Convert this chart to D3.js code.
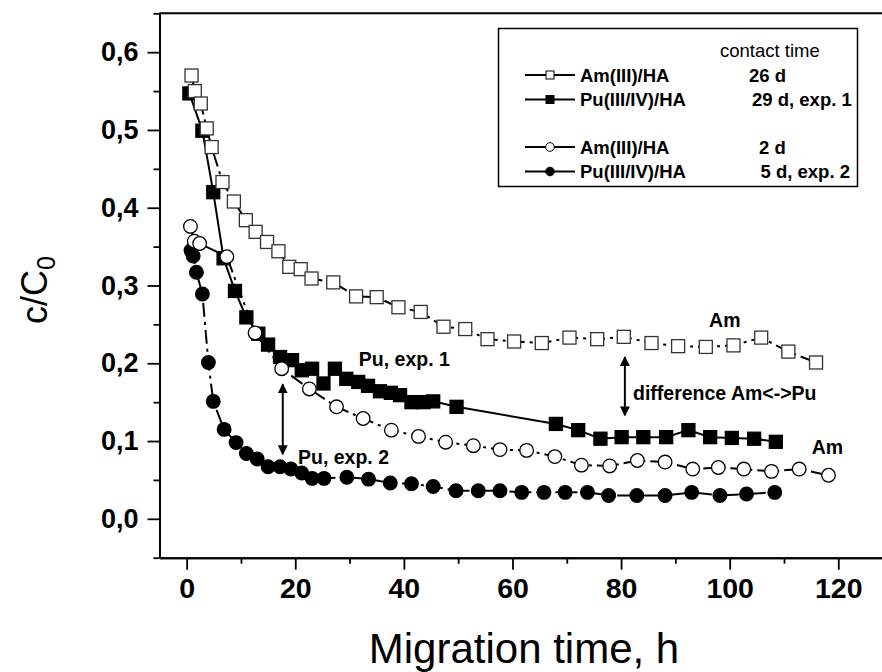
<!DOCTYPE html>
<html>
<head>
<meta charset="utf-8">
<script src="https://cdn.jsdelivr.net/npm/d3@7"></script>
<style>
  body { margin: 0; background: #fff; }
  svg { display: block; font-family: "Liberation Sans", Arial, sans-serif; }
  .tick text { font-weight: bold; font-size: 27px; fill: #000; }
  .x-axis .tick text { font-size: 28.5px; }
  .tick line, .domain { stroke: #000; }
</style>
</head>
<body>
<svg width="882" height="672"></svg>
<script>
// Am(III)/HA, contact time 26 d
const amLongTime = [0.9, 1.5, 2.6, 3.7, 4.6, 6.6, 8.7, 10.9, 12.7, 14.8, 16.9, 18.9, 21.0, 23.0, 27.0, 31.2, 35.0, 39.0, 43.1, 47.3, 51.3, 55.4, 60.3, 65.4, 70.5, 75.6, 80.5, 85.6, 90.5, 95.6, 100.7, 105.8, 110.8, 115.9];
const amLongC = [0.570, 0.550, 0.534, 0.502, 0.478, 0.433, 0.408, 0.384, 0.369, 0.356, 0.344, 0.324, 0.321, 0.309, 0.304, 0.286, 0.285, 0.272, 0.266, 0.247, 0.244, 0.231, 0.228, 0.226, 0.233, 0.231, 0.234, 0.226, 0.222, 0.221, 0.223, 0.233, 0.215, 0.201];

// Pu(III/IV)/HA, 29 d, exp. 1
const puExp1Time = [0.5, 2.9, 4.9, 6.8, 8.9, 11.0, 13.2, 15.0, 17.2, 19.4, 21.2, 23.1, 25.2, 27.3, 29.4, 31.6, 33.4, 35.6, 37.6, 39.3, 41.4, 43.6, 45.4, 49.7, 68.0, 72.1, 76.2, 80.1, 84.1, 88.3, 92.4, 96.4, 100.4, 104.5, 108.5];
const puExp1C = [0.547, 0.499, 0.420, 0.335, 0.293, 0.259, 0.238, 0.224, 0.208, 0.204, 0.191, 0.193, 0.174, 0.193, 0.180, 0.176, 0.171, 0.164, 0.162, 0.159, 0.150, 0.150, 0.151, 0.144, 0.122, 0.114, 0.103, 0.105, 0.105, 0.105, 0.114, 0.105, 0.104, 0.103, 0.099];

// Am(III)/HA, contact time 2 d
const amShortTime = [0.7, 1.4, 2.4, 7.4, 12.6, 17.5, 22.6, 27.6, 32.5, 37.7, 42.7, 47.7, 52.8, 57.7, 62.6, 67.8, 72.7, 77.9, 83.0, 88.1, 93.2, 97.9, 102.6, 107.7, 112.8, 118.2];
const amShortC = [0.376, 0.357, 0.354, 0.337, 0.239, 0.193, 0.167, 0.144, 0.129, 0.114, 0.106, 0.0985, 0.094, 0.089, 0.088, 0.080, 0.069, 0.068, 0.075, 0.073, 0.064, 0.066, 0.064, 0.061, 0.064, 0.056];

// Pu(III/IV)/HA, 5 d, exp. 2
const puExp2Time = [0.8, 1.2, 1.8, 2.9, 4.0, 4.9, 6.9, 9.1, 11.0, 13.0, 15.0, 17.2, 19.2, 21.2, 23.1, 25.3, 29.5, 33.5, 37.5, 41.4, 45.4, 49.6, 53.7, 57.7, 61.7, 65.8, 69.7, 73.8, 77.7, 82.9, 88.1, 93.0, 98.2, 103.1, 108.3];
const puExp2C = [0.345, 0.338, 0.317, 0.289, 0.201, 0.151, 0.115, 0.098, 0.084, 0.077, 0.067, 0.067, 0.064, 0.059, 0.052, 0.052, 0.0535, 0.051, 0.046, 0.045, 0.0415, 0.036, 0.036, 0.036, 0.034, 0.034, 0.034, 0.034, 0.030, 0.030, 0.030, 0.034, 0.030, 0.032, 0.034];

const xMajorTicks = [0, 20, 40, 60, 80, 100, 120];
const xMinorTicks = [10, 30, 50, 70, 90, 110, 130];
const yMajorTicks = [0, 0.1, 0.2, 0.3, 0.4, 0.5, 0.6];
const yMinorTicks = [-0.05, 0.05, 0.15, 0.25, 0.35, 0.45, 0.55, 0.65];

// text notes inside the plot: [label, time, c/c0]
const noteLabels = ["Am", "Am", "difference Am<->Pu", "Pu, exp. 1", "Pu, exp. 2"];
const noteTime = [99.1, 118.0, 82.2, 31.7, 20.5];
const noteC = [0.246, 0.083, 0.153, 0.197, 0.071];
const noteAnchor = ["middle", "middle", "start", "start", "start"];

// double arrows: time, from, to
const arrowTime = [17.7, 80.7];
const arrowFrom = [0.173, 0.208];
const arrowTo = [0.083, 0.133];

const legendNames = ["Am(III)/HA", "Pu(III/IV)/HA", "Am(III)/HA", "Pu(III/IV)/HA"];
const legendTimes = ["26 d", "29 d, exp. 1", "2 d", "5 d, exp. 2"];

const svg = d3.select("svg");

const x = d3.scaleLinear().domain([-5, 130]).range([159.5, 892.6]);
const y = d3.scaleLinear().domain([-0.05, 0.65]).range([557.7, 13.3]);

const comma = d => d3.format(".1f")(d).replace(".", ",");

// axes
svg.append("g")
    .attr("class", "x-axis")
    .attr("transform", `translate(0,${y(-0.05)})`)
    .call(d3.axisBottom(x).tickValues(xMajorTicks).tickSize(12).tickSizeOuter(0).tickPadding(8));
svg.append("g")
    .attr("transform", `translate(0,${y(-0.05)})`)
    .call(d3.axisBottom(x).tickValues(xMinorTicks).tickSize(6).tickSizeOuter(0).tickFormat(""));

svg.append("g")
    .attr("transform", `translate(${x(-5)},0)`)
    .call(d3.axisLeft(y).tickValues(yMajorTicks).tickSize(12).tickSizeOuter(0).tickPadding(9).tickFormat(comma));
svg.append("g")
    .attr("transform", `translate(${x(-5)},0)`)
    .call(d3.axisLeft(y).tickValues(yMinorTicks).tickSize(6).tickSizeOuter(0).tickFormat(""));

svg.selectAll(".domain").attr("stroke-width", 2);
svg.selectAll(".tick line").attr("stroke-width", 1.8);

// top frame line
svg.append("line")
    .attr("x1", x(-5)).attr("x2", x(130))
    .attr("y1", y(0.65)).attr("y2", y(0.65))
    .attr("stroke", "#000").attr("stroke-width", 2);

// axis titles
svg.append("text")
    .attr("x", 524).attr("y", 663)
    .attr("text-anchor", "middle")
    .attr("font-size", 42)
    .text("Migration time, h");

const yTitle = svg.append("text")
    .attr("transform", `translate(47,290) rotate(-90)`)
    .attr("text-anchor", "middle")
    .attr("font-size", 36);
yTitle.append("tspan").text("c/C");
yTitle.append("tspan").attr("font-size", 25).attr("dy", 8).text("0");

// series
const series = [
    { t: puExp2Time, c: puExp2C, shape: "circle", fill: "#000", dash: "14,5,3,5" },
    { t: puExp1Time, c: puExp1C, shape: "square", fill: "#000", dash: null },
    { t: amShortTime, c: amShortC, shape: "circle", fill: "#fff", dash: "14,5,3,5" },
    { t: amLongTime, c: amLongC, shape: "square", fill: "#fff", dash: "14,5,3,5" }
];

const line = d3.line().x(d => x(d[0])).y(d => y(d[1]));

series.forEach(s => {
    const pts = s.t.map((t, i) => [t, s.c[i]]);
    const g = svg.append("g");
    g.append("path")
        .datum(pts)
        .attr("d", line)
        .attr("fill", "none")
        .attr("stroke", "#000")
        .attr("stroke-width", 2)
        .attr("stroke-dasharray", s.dash);

    if (s.shape === "circle") {
        g.selectAll("circle").data(pts).enter().append("circle")
            .attr("cx", d => x(d[0]))
            .attr("cy", d => y(d[1]))
            .attr("r", 6.8)
            .attr("fill", s.fill)
            .attr("stroke", "#000")
            .attr("stroke-width", 1.3);
    } else {
        g.selectAll("rect").data(pts).enter().append("rect")
            .attr("x", d => x(d[0]) - 6.5)
            .attr("y", d => y(d[1]) - 6.5)
            .attr("width", 13)
            .attr("height", 13)
            .attr("fill", s.fill)
            .attr("stroke", s.fill === "#fff" ? "#333" : "#000")
            .attr("stroke-width", 1.3);
    }
});

// notes
svg.append("g").selectAll("text")
    .data(noteLabels)
    .enter().append("text")
    .attr("x", (d, i) => x(noteTime[i]))
    .attr("y", (d, i) => y(noteC[i]))
    .attr("text-anchor", (d, i) => noteAnchor[i])
    .attr("font-size", 19.5)
    .attr("font-weight", "bold")
    .text(d => d);

// double arrows
const defs = svg.append("defs");
defs.append("marker")
    .attr("id", "head")
    .attr("viewBox", "0 0 10 10")
    .attr("refX", 9).attr("refY", 5)
    .attr("markerWidth", 5).attr("markerHeight", 5)
    .attr("orient", "auto-start-reverse")
    .append("path")
    .attr("d", "M0,0 L10,5 L0,10 Z")
    .attr("fill", "#000");

svg.append("g").selectAll("line")
    .data(arrowTime)
    .enter().append("line")
    .attr("x1", d => x(d)).attr("x2", d => x(d))
    .attr("y1", (d, i) => y(arrowFrom[i]))
    .attr("y2", (d, i) => y(arrowTo[i]))
    .attr("stroke", "#000")
    .attr("stroke-width", 2)
    .attr("marker-start", "url(#head)")
    .attr("marker-end", "url(#head)");

// legend
const legend = svg.append("g");
legend.append("rect")
    .attr("x", 498.5).attr("y", 28.5)
    .attr("width", 359).attr("height", 158)
    .attr("fill", "#fff")
    .attr("stroke", "#000")
    .attr("stroke-width", 1.5);

legend.append("text")
    .attr("x", 720).attr("y", 56.5)
    .attr("font-size", 18.5)
    .text("contact time");

const legendRowY = [75, 99.5, 147, 171.5];
const legendTimeX = [749, 752, 759, 760.5];
const legendShapes = ["square", "square", "circle", "circle"];
const legendFill = ["#fff", "#000", "#fff", "#000"];

legendNames.forEach((name, i) => {
    const ly = legendRowY[i];
    legend.append("line")
        .attr("x1", 525).attr("x2", 575)
        .attr("y1", ly).attr("y2", ly)
        .attr("stroke", "#000").attr("stroke-width", 2);
    if (legendShapes[i] === "square") {
        legend.append("rect")
            .attr("x", 546).attr("y", ly - 4)
            .attr("width", 8).attr("height", 8)
            .attr("fill", legendFill[i]).attr("stroke", "#000").attr("stroke-width", 1);
    } else {
        legend.append("circle")
            .attr("cx", 550).attr("cy", ly).attr("r", 4.3)
            .attr("fill", legendFill[i]).attr("stroke", "#000").attr("stroke-width", 1);
    }
    legend.append("text")
        .attr("x", 580).attr("y", ly + 6.5)
        .attr("font-size", 18.5).attr("font-weight", "bold")
        .text(name);
    legend.append("text")
        .attr("x", legendTimeX[i]).attr("y", ly + 6.5)
        .attr("font-size", 18.5).attr("font-weight", "bold")
        .text(legendTimes[i]);
});
</script>
</body>
</html>
